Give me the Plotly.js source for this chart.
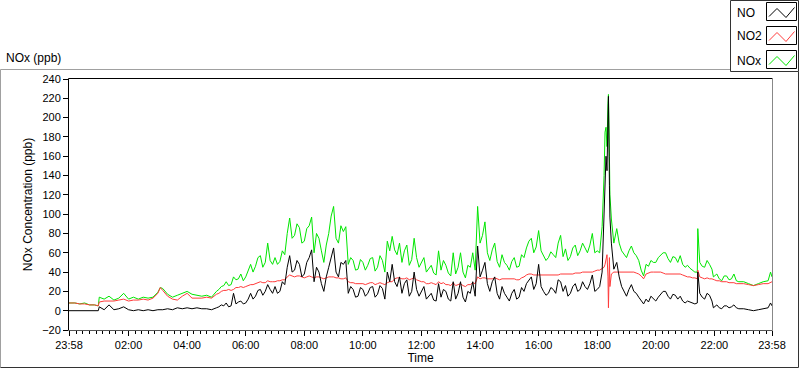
<!DOCTYPE html>
<html>
<head>
<meta charset="utf-8">
<script src="https://cdn.plot.ly/plotly-3.0.1.min.js"></script>
<style>html,body{margin:0;padding:0;background:#fff;}#chart{width:800px;height:369px;}</style>
</head>
<body>
<div id="chart"></div>
<script>
// ---- data ----
const times = [
 '23:58','00:10','00:20','00:30','00:40','00:50','00:58','01:00','01:10','01:20','01:30','01:40','01:50','02:00','02:10','02:20','02:30','02:40','02:50','03:00','03:05','03:10','03:20','03:30','03:40','03:50','04:00','04:10','04:20','04:30','04:40','04:50',
 '05:00','05:05','05:10','05:15','05:20','05:25','05:30','05:35','05:40','05:45','05:50','05:55',
 '06:00','06:05','06:10','06:15','06:20','06:25','06:30','06:35','06:40','06:45','06:50','06:55',
 '07:00','07:05','07:10','07:15','07:20','07:25','07:30','07:35','07:40','07:45','07:50','07:55',
 '08:00','08:05','08:10','08:15','08:20','08:25','08:30','08:35','08:40','08:45','08:50','08:55',
 '09:00','09:05','09:10','09:15','09:20','09:25','09:30','09:35','09:40','09:45','09:50','09:55',
 '10:00','10:05','10:10','10:15','10:20','10:25','10:30','10:35','10:40','10:45','10:50','10:55',
 '11:00','11:05','11:10','11:15','11:20','11:25','11:30','11:35','11:40','11:45','11:50','11:55',
 '12:00','12:05','12:10','12:15','12:20','12:25','12:30','12:35','12:40','12:45','12:50','12:55',
 '13:00','13:05','13:10','13:15','13:20','13:25','13:30','13:35','13:40','13:45','13:50','13:55',
 '14:00','14:05','14:10','14:15','14:20','14:25','14:30','14:35','14:40','14:45','14:50','14:55',
 '15:00','15:05','15:10','15:15','15:20','15:25','15:30','15:35','15:40','15:45','15:50','15:55',
 '16:00','16:05','16:10','16:15','16:20','16:25','16:30','16:35','16:40','16:45','16:50','16:55',
 '17:00','17:05','17:10','17:15','17:20','17:25','17:30','17:35','17:40','17:45','17:50','17:55',
 '18:00','18:05','18:10','18:14','18:16','18:18','18:20','18:22','18:23','18:25','18:26','18:29','18:34','18:40','18:45','18:50','18:55',
 '19:00','19:05','19:10','19:15','19:20','19:25','19:30','19:35','19:40','19:45','19:50','19:55',
 '20:00','20:05','20:10','20:15','20:20','20:25','20:30','20:35','20:40','20:45','20:50','20:55',
 '21:00','21:05','21:10','21:15','21:20','21:25','21:26','21:30','21:35','21:40','21:45','21:50','21:55','21:58',
 '22:00','22:05','22:10','22:15','22:20','22:25','22:30','22:35','22:40','22:45','22:50','22:55',
 '23:00','23:10','23:20','23:30','23:40','23:50','23:55','23:58'
];
const NO = [
 0,0,0,0,0,0,0,4,1,6,1,2,4,1,0,1,0,1,0,1,1,1,2,1,3,2,3,2,3,2,2,1,
 3,4,6,5,8,4,5,18,7,9,10,7,
 8,12,18,12,15,21,22,16,20,27,22,18,
 25,18,20,30,27,45,57,40,42,52,48,35,
 38,50,55,63,30,45,40,28,20,35,45,55,
 65,40,35,50,48,52,18,25,22,14,15,24,
 22,15,18,24,25,14,17,26,23,12,40,30,
 48,30,25,35,18,28,32,15,20,40,22,15,
 20,25,12,15,18,11,10,28,14,22,20,12,
 10,30,12,18,30,14,9,20,18,30,15,67,
 35,42,50,28,20,30,35,18,12,25,18,14,
 10,18,22,12,14,24,20,28,32,35,22,28,
 48,25,20,16,18,24,22,18,32,30,20,26,
 15,18,25,28,20,22,30,25,22,28,37,20,
 22,25,40,100,140,160,145,200,222,130,97,70,43,50,35,25,20,
 15,22,27,20,18,14,10,7,12,9,15,12,
 10,14,17,20,20,15,12,17,16,12,15,10,
 8,10,9,8,7,8,40,18,14,12,18,16,10,3,
 4,6,3,2,5,5,3,4,6,3,2,2,
 2,1,0,1,2,3,8,5
];
const NO2 = [
 8,8,7,7,6,6,5,9,10,10,10,11,12,10,11,11,12,11,13,18,24,21,15,12,11,15,18,13,13,13,14,13,
 17,18,20,21,21,22,21,22,24,24,25,24,
 25,26,27,27,28,29,30,29,29,31,30,30,
 30,31,31,32,32,35,37,36,35,36,36,35,
 34,35,36,35,34,35,35,34,33,34,35,35,
 35,34,34,33,33,34,30,29,29,28,28,28,
 28,27,28,29,29,27,28,29,28,27,29,30,
 30,33,34,34,33,33,34,32,33,34,32,31,
 30,30,28,28,29,28,27,30,28,29,27,27,
 26,29,26,27,28,26,25,27,27,29,28,35,
 33,34,34,33,33,33,34,33,32,33,33,33,
 33,33,33,32,32,34,35,37,38,38,37,37,
 37,37,37,37,37,37,37,37,37,38,38,38,
 38,38,38,39,39,39,40,40,40,40,40,41,
 42,42,44,45,48,52,58,35,3,55,25,38,40,40,40,40,40,
 40,40,40,40,39,38,36,33,38,39,40,40,
 40,40,40,39,38,38,38,38,38,38,38,37,
 36,35,35,34,34,33,42,35,34,33,34,33,33,32,
 32,31,31,30,30,30,29,29,29,28,28,28,
 28,27,26,27,28,28,29,30
];
const NOx = [
 8,8,7,8,6,6,5,14,12,15,11,13,18,12,14,12,14,13,14,19,24,23,17,14,16,18,20,17,16,15,16,14,
 20,22,25,26,30,26,27,35,32,33,38,31,
 35,42,48,40,46,55,57,45,50,70,52,48,
 55,48,51,62,58,80,96,75,78,90,86,70,
 72,85,88,97,60,80,75,62,50,68,80,98,
 108,75,70,88,82,87,48,55,52,42,43,53,
 50,42,47,54,55,41,45,57,52,40,72,62,
 77,63,58,70,50,62,68,47,53,75,55,45,
 50,55,40,43,47,39,37,62,42,52,47,39,
 36,60,38,45,60,40,34,47,45,60,42,108,
 70,78,92,60,52,63,70,51,45,58,50,47,
 42,51,55,45,46,58,55,65,72,75,60,66,
 83,62,56,52,55,61,58,55,70,78,56,64,
 52,56,65,68,57,62,70,64,60,68,80,60,
 62,60,87,140,185,190,170,215,224,160,120,95,70,85,70,62,58,
 55,62,67,60,57,52,42,36,48,46,52,50,
 50,55,58,60,60,54,50,56,55,50,57,48,
 45,47,44,42,40,40,85,50,46,45,52,48,43,35,
 36,38,33,31,36,36,32,33,38,31,30,30,
 30,28,26,28,30,31,40,35
];
const seriesNames = ['NO', 'NO2', 'NOx'];
const seriesColors = ['#000000', '#ff3b3b', '#00e600'];
const tickLabels = ['23:58','02:00','04:00','06:00','08:00','10:00','12:00','14:00','16:00','18:00','20:00','22:00','23:58'];
const yTitle = 'NOx Concentration (ppb)';
const xTitle = 'Time';
const caption = 'NOx (ppb)';

// ---- build ----
const DAY0 = '2024-01-01 ', DAY1 = '2024-01-02 ';
const xs = times.map((t, i) => (i === 0 ? DAY0 : DAY1) + t);
const tickVals = tickLabels.map((t, i) => (i === 0 ? DAY0 : DAY1) + t);

const ML = 69, MR = 28, MT = 79, MB = 39, W = 800, H = 369;
const PW = W - ML - MR, PH = H - MT - MB;
const px = x => (x - ML) / PW;
const py = y => (H - MB - y) / PH;
const FONT = 'Liberation Sans, Arial, sans-serif';

const ys = [NO, NO2, NOx];
const order = [2, 1, 0];
const traces = order.map(k => ({
  type: 'scatter', mode: 'lines', name: seriesNames[k],
  x: xs, y: ys[k],
  line: {color: seriesColors[k], width: 1, shape: 'linear'},
  hoverinfo: 'skip'
}));

const line = (x0, y0, x1, y1, c) => ({type: 'line', xref: 'paper', yref: 'paper',
  x0: px(x0), y0: py(y0), x1: px(x1), y1: py(y1), line: {color: c, width: 1}, layer: 'above'});

const shapes = [
  line(68.5, 78.5, 68.5, 330.5, '#000'),
  line(68.5, 78.5, 772.5, 78.5, '#000'),
  line(772.5, 78.5, 772.5, 330.5, '#888'),
  line(68.5, 330.5, 772.5, 330.5, '#555'),
  line(0.5, 69.5, 730.5, 69.5, '#a0a0a0'),
  line(0.5, 69.5, 0.5, 367.5, '#a0a0a0'),
  line(0.5, 367.5, 798.5, 367.5, '#333'),
  line(798.5, 71.5, 798.5, 367.5, '#333'),
  {type: 'rect', xref: 'paper', yref: 'paper', x0: px(730.5), x1: px(798.5), y0: py(0.5), y1: py(71.5),
   line: {color: '#333', width: 1}, fillcolor: '#fff', layer: 'above'}
];
const annotations = [
  {xref: 'paper', yref: 'paper', x: px(4), y: py(58), xanchor: 'left', yanchor: 'middle',
   text: caption, showarrow: false, font: {family: FONT, size: 12, color: '#000'}}
];
const boxTop = [2.5, 26.5, 50.5];
seriesNames.forEach((n, k) => {
  const t = boxTop[k];
  shapes.push({type: 'rect', xref: 'paper', yref: 'paper', x0: px(766.5), x1: px(796.5), y0: py(t), y1: py(t + 18),
    line: {color: '#000', width: 1}, fillcolor: '#fff', layer: 'above'});
  const pts = [[769, t + 14], [777, t + 6], [786, t + 15], [794.5, t + 5]];
  shapes.push({type: 'path', xref: 'paper', yref: 'paper', layer: 'above',
    path: 'M' + pts.map(p => px(p[0]) + ',' + py(p[1])).join(' L'),
    line: {color: seriesColors[k], width: 1}});
  annotations.push({xref: 'paper', yref: 'paper', x: px(735), y: py(t + 10), xanchor: 'left', yanchor: 'middle',
    text: n, showarrow: false, font: {family: FONT, size: 12, color: '#000'}});
});

const layout = {
  width: W, height: H,
  margin: {l: ML, r: MR, t: MT, b: MB, pad: 0},
  paper_bgcolor: '#fff', plot_bgcolor: '#fff',
  showlegend: false,
  font: {family: FONT, size: 11, color: '#000'},
  xaxis: {
    type: 'date', range: [xs[0], xs[xs.length - 1]],
    tickmode: 'array', tickvals: tickVals, ticktext: tickLabels,
    ticks: 'outside', ticklen: 5, tickwidth: 1, tickcolor: '#000',
    showgrid: false, zeroline: false, showline: false,
    tickfont: {family: FONT, size: 11, color: '#000'},
    minor: {dtick: 800000, tick0: DAY1 + '00:00', ticks: 'outside', ticklen: 3, tickwidth: 1, tickcolor: '#000', showgrid: false},
    title: {text: xTitle, font: {family: FONT, size: 12, color: '#000'}, standoff: 3},
    automargin: false, fixedrange: true
  },
  yaxis: {
    range: [-20, 240], dtick: 20, tick0: 0,
    ticks: 'outside', ticklen: 5, tickwidth: 1, tickcolor: '#000',
    showgrid: false, zeroline: false, showline: false,
    tickfont: {family: FONT, size: 11, color: '#000'},
    title: {text: yTitle, font: {family: FONT, size: 12, color: '#000'}, standoff: 6},
    automargin: false, fixedrange: true
  },
  shapes: shapes,
  annotations: annotations
};

Plotly.newPlot('chart', traces, layout, {displayModeBar: false, staticPlot: true});
</script>
</body>
</html>
